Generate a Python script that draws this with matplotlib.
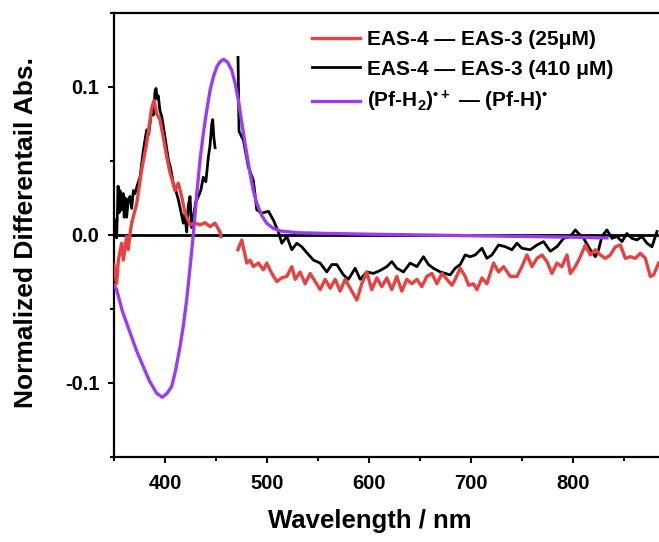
import matplotlib
matplotlib.use('Agg')
import matplotlib.pyplot as plt
from matplotlib.ticker import MultipleLocator
import numpy as np

plt.rcParams['font.family'] = ['Liberation Sans', 'DejaVu Sans']
plt.rcParams['font.weight'] = 'bold'
plt.rcParams['mathtext.fontset'] = 'custom'
plt.rcParams['mathtext.rm'] = 'Liberation Sans:bold'
plt.rcParams['mathtext.it'] = 'Liberation Sans:bold'
plt.rcParams['mathtext.bf'] = 'Liberation Sans:bold'

# EAS-4 - EAS-3 (25 uM), two segments
red_wl_a = [350, 352.6, 354.3, 357.5, 359.2, 362.4, 364, 365.7, 367.3, 372.2, 377.1, 382, 386.9,
            389.2, 391.8, 395, 398.3, 401.6, 404.9, 409.8, 413, 416.3, 419.6, 424.5, 429.4, 434.3,
            439.2, 444.1, 449, 453.9, 454.9]
red_a = [-0.02, -0.033, -0.017, -0.0056, -0.017, -0.001, -0.010, 0.001, 0.008, 0.021, 0.044, 0.062,
         0.0856, 0.091, 0.082, 0.078, 0.066, 0.053, 0.042, 0.030, 0.035, 0.026, 0.0147, 0.0068,
         0.008, 0.0068, 0.0083, 0.0056, 0.008, 0.002, -0.001]
red_wl_b = [471.3, 475.2, 480.1, 483.3, 486.6, 491.5, 496.4, 499.7, 504.6, 509.5, 514.4, 519.3,
            524.2, 527.5, 532.4, 537.3, 542.2, 547.1, 552, 556.9, 561.8, 566.7, 571.6, 576.5,
            581.4, 587.9, 592.8, 597.7, 602.5, 607.5, 612.4, 617.3, 622.2, 627.1, 632, 636.9,
            641.8, 646.8, 651.6, 656.5, 661.5, 666.4, 671.3, 676.2, 681.1, 684.3, 689.2, 694.1,
            697.4, 702.3, 705.6, 710.5, 715.4, 721.9, 726.8, 731.7, 738.2, 744.8, 749.7, 754.6,
            759.5, 764.4, 769.3, 774.2, 779.1, 784, 788.9, 793.8, 797.1, 802, 806.9, 811.8,
            816.7, 821.6, 826.5, 831.4, 836.3, 841.2, 846.1, 851, 855.9, 860.8, 865.7, 870.6,
            875.5, 878.7, 883.6]
red_b = [-0.010, -0.0034, -0.019, -0.017, -0.0214, -0.019, -0.0236, -0.019, -0.026, -0.0315,
         -0.029, -0.028, -0.0214, -0.030, -0.025, -0.033, -0.026, -0.0315, -0.037, -0.030,
         -0.036, -0.030, -0.038, -0.030, -0.036, -0.044, -0.033, -0.025, -0.037, -0.029,
         -0.035, -0.029, -0.037, -0.028, -0.038, -0.030, -0.033, -0.030, -0.035, -0.028,
         -0.026, -0.033, -0.026, -0.030, -0.034, -0.030, -0.0225, -0.028, -0.034, -0.033,
         -0.037, -0.029, -0.033, -0.019, -0.025, -0.0214, -0.028, -0.028, -0.0214, -0.0135,
         -0.0214, -0.0158, -0.0135, -0.018, -0.026, -0.019, -0.0214, -0.0135, -0.026, -0.0214,
         -0.0147, -0.0068, -0.0135, -0.010, -0.0135, -0.0158, -0.0135, -0.008, -0.0068,
         -0.0158, -0.0147, -0.0158, -0.0124, -0.0158, -0.028, -0.027, -0.019]

# EAS-4 - EAS-3 (410 uM), two segments
black_wl_a = [350, 351, 352.6, 354, 355, 355.9, 357.5, 359, 360, 361, 362.4, 364, 365.7, 367.3,
              369, 370.6, 373, 375.5, 378.7, 382, 384, 386.9, 388.5, 390.2, 391.2, 392.3, 393.4,
              395, 396.8, 400, 403.2, 405.5, 408.1, 410.5, 413, 415.5, 417.9, 419.5, 421.2,
              422.8, 424.5, 426, 427.8, 430, 432.6, 435, 437.5, 440, 442.5, 444, 445.8, 446.7,
              447.8, 449]
black_a = [0.0, 0.01, -0.002, 0.033, 0.015, 0.030, 0.017, 0.028, 0.012, 0.025, 0.012, 0.024, 0.026,
           0.018, 0.030, 0.028, 0.034, 0.039, 0.057, 0.071, 0.068, 0.0845, 0.081, 0.097, 0.099,
           0.092, 0.094, 0.084, 0.080, 0.066, 0.051, 0.045, 0.035, 0.030, 0.024, 0.016, 0.008,
           0.014, 0.002, 0.020, 0.026, 0.005, 0.012, 0.022, 0.026, 0.030, 0.039, 0.036, 0.053,
           0.060, 0.075, 0.078, 0.066, 0.059]
black_wl_b = [471.5, 472.5, 476.8, 481.6, 486.5, 489.9, 494.8, 501.3, 506.2, 511.1, 514.4, 519.3,
              524.2, 529.1, 534, 538.9, 545.4, 552, 558.5, 563.4, 568.3, 574.8, 579.7, 586.3,
              591.2, 597.7, 604.2, 610.8, 617.3, 622.2, 627.1, 633.6, 640.2, 646.8, 653.2,
              658.1, 663, 669.6, 674.5, 679.4, 684.3, 689.2, 694.1, 699, 703.9, 710.5, 715.4,
              720.3, 726.8, 733.3, 739.9, 744.8, 749.7, 757.8, 764.4, 770.9, 777.5, 784, 790.5,
              797.1, 802, 805.2, 810.1, 816.7, 821.6, 824.8, 828.1, 833, 837.9, 842.8, 847.7,
              852.5, 857.5, 862.4, 867.3, 872.2, 877.1, 882]
black_b = [0.120, 0.070, 0.064, 0.046, 0.037, 0.017, 0.0147, 0.016, 0.010, 0.002, -0.0056, -0.001,
           -0.010, -0.0056, -0.008, -0.012, -0.017, -0.019, -0.025, -0.020, -0.020, -0.027,
           -0.030, -0.0225, -0.030, -0.025, -0.026, -0.024, -0.0214, -0.018, -0.0225, -0.025,
           -0.019, -0.0214, -0.0147, -0.020, -0.0225, -0.025, -0.026, -0.027, -0.0225, -0.020,
           -0.0135, -0.0147, -0.0135, -0.009, -0.0158, -0.0135, -0.0068, -0.0079, -0.010,
           -0.0056, -0.009, -0.010, -0.0068, -0.0045, -0.011, -0.0079, -0.0023, -0.001, 0.0034,
           0.001, -0.0023, -0.010, -0.0147, -0.010, -0.001, 0.0034, -0.0023, -0.001, -0.0045,
           0.001, -0.0023, -0.0034, -0.001, -0.0056, -0.008, 0.0023]

# (Pf-H2)*+ - (Pf-H)*
purple_wl = [350, 352.6, 358, 365.7, 372, 378.7, 385, 391.8, 397.4, 402, 406.5, 410.5, 414.7,
             418, 421.2, 424.5, 427.8, 431, 434.3, 437.6, 440.9, 444.2, 447.4, 451, 454,
             457.2, 461, 465.3, 468.5, 471.9, 476.8, 480, 483.3, 486.5, 489.9, 494.8, 499.7,
             506, 512.7, 530, 560, 600, 650, 700, 750, 800, 833]
purple = [-0.034, -0.037, -0.051, -0.066, -0.078, -0.089, -0.099, -0.107, -0.1097, -0.107,
          -0.1025, -0.091, -0.0755, -0.061, -0.044, -0.022, 0.001, 0.027, 0.0507, 0.069,
          0.0845, 0.098, 0.107, 0.114, 0.117, 0.1187, 0.117, 0.1115, 0.103, 0.091, 0.0687,
          0.055, 0.0417, 0.030, 0.0214, 0.013, 0.0079, 0.0045, 0.0027, 0.0015, 0.001, 0.0005,
          0.0, -0.0005, -0.001, -0.0015, -0.002]

red_wl = red_wl_a + [np.nan] + red_wl_b
red_y = red_a + [np.nan] + red_b
black_wl = black_wl_a + [np.nan] + black_wl_b
black_y = black_a + [np.nan] + black_b

fig = plt.figure(figsize=(6.59, 5.42), dpi=100)
ax = fig.add_axes([0.173, 0.157, 0.827, 0.819])

ax.axhline(0, color='black', lw=2, zorder=1)
ax.plot(red_wl, red_y, color='#E84142', lw=2.4, label='EAS-4 \u2014 EAS-3 (25\u03bcM)', zorder=3)
ax.plot(black_wl, black_y, color='black', lw=2.0, label='EAS-4 \u2014 EAS-3 (410 \u03bcM)', zorder=2)
ax.plot(purple_wl, purple, color='#9A3CF0', lw=2.4,
        label='(Pf-H$_2$)$^{\u2022+}$ \u2014 (Pf-H)$^{\u2022}$', zorder=4)

ax.set_xlim(350, 884)
ax.set_ylim(-0.15, 0.15)
ax.xaxis.set_minor_locator(MultipleLocator(50))
ax.yaxis.set_minor_locator(MultipleLocator(0.05))
ax.set_xticks([400, 500, 600, 700, 800])
ax.set_yticks([-0.1, 0.0, 0.1])
ax.set_yticklabels(['-0.1', '0.0', '0.1'])

for side in ['left', 'bottom', 'top']:
    ax.spines[side].set_linewidth(1.6)
ax.spines['right'].set_visible(False)
ax.tick_params(which='major', direction='out', length=4.5, width=1.5, labelsize=14.5)
ax.tick_params(axis='y', which='major', pad=6)
ax.tick_params(axis='x', which='major', pad=8)
ax.tick_params(which='minor', direction='out', length=3, width=1.5)
ax.tick_params(top=False, right=False, which='both')

ax.set_xlabel('Wavelength / nm', fontsize=18.5, fontweight='bold')
ax.xaxis.set_label_coords(0.47, -0.118)
ax.set_ylabel('Normalized Differentail Abs.', fontsize=19, fontweight='bold')
ax.yaxis.set_label_coords(-0.14, 0.505)

ax.legend(loc='upper left', bbox_to_anchor=(0.473, 0.944), bbox_transform=fig.transFigure,
          frameon=False, fontsize=15, handlelength=2.3, handletextpad=0.35,
          labelspacing=0.5, borderpad=0, borderaxespad=0)

fig.savefig('out.png', dpi=100)
